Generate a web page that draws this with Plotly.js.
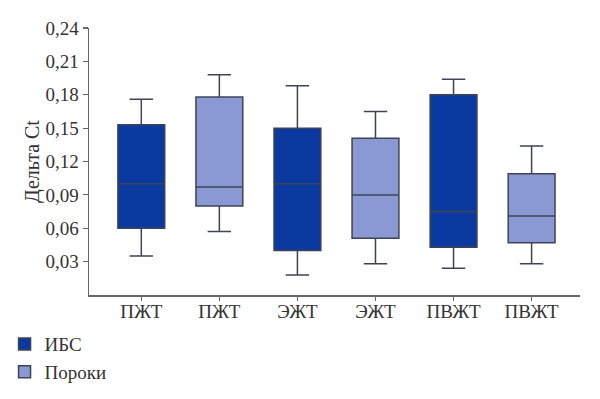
<!DOCTYPE html>
<html>
<head>
<meta charset="utf-8">
<script src="https://cdn.plot.ly/plotly-3.0.1.min.js"></script>
<style>html,body{margin:0;padding:0;background:#fff;}#chart{width:600px;height:399px;}</style>
</head>
<body>
<div id="chart"></div>
<script>
// Category positions and labels
const tickPositions = [0, 1, 2, 3, 4, 5];
const tickLabels = ["ПЖТ", "ПЖТ", "ЭЖТ", "ЭЖТ", "ПВЖТ", "ПВЖТ"];

// ИБС series (positions 0, 2, 4)
const ibsX = [0, 2, 4];
const ibsLower = [0.035, 0.018, 0.024];
const ibsQ1 = [0.060, 0.040, 0.043];
const ibsMedian = [0.100, 0.100, 0.075];
const ibsQ3 = [0.153, 0.150, 0.180];
const ibsUpper = [0.176, 0.188, 0.194];

// Пороки series (positions 1, 3, 5)
const porX = [1, 3, 5];
const porLower = [0.057, 0.028, 0.028];
const porQ1 = [0.080, 0.051, 0.047];
const porMedian = [0.097, 0.090, 0.071];
const porQ3 = [0.178, 0.141, 0.109];
const porUpper = [0.198, 0.165, 0.134];

// Y tick labels
const yTickVals = [0.03, 0.06, 0.09, 0.12, 0.15, 0.18, 0.21, 0.24];
const yTickText = ["0,03", "0,06", "0,09", "0,12", "0,15", "0,18", "0,21", "0,24"];

const fontFam = "Liberation Serif, Times New Roman, serif";

const traces = [
  {
    type: "box", name: "ИБС", x: ibsX,
    lowerfence: ibsLower, q1: ibsQ1, median: ibsMedian, q3: ibsQ3, upperfence: ibsUpper,
    width: 0.6, whiskerwidth: 0.5,
    fillcolor: "#0a3aa0", line: {color: "#3e4456", width: 1.5},
    legendgroup: "a", hoverinfo: "skip"
  },
  {
    type: "box", name: "Пороки", x: porX,
    lowerfence: porLower, q1: porQ1, median: porMedian, q3: porQ3, upperfence: porUpper,
    width: 0.6, whiskerwidth: 0.5,
    fillcolor: "#8a98d4", line: {color: "#3e4456", width: 1.5},
    legendgroup: "b", hoverinfo: "skip"
  }
];

const layout = {
  width: 600, height: 399,
  margin: {l: 89, r: 20, t: 28, b: 104, autoexpand: false},
  paper_bgcolor: "#fff", plot_bgcolor: "#fff",
  font: {family: fontFam, size: 19, color: "#333"},
  boxmode: "overlay",
  showlegend: true,
  legend: {
    x: -0.172, xanchor: "left", y: -0.113, yanchor: "top",
    orientation: "v", tracegroupgap: 0,
    font: {family: fontFam, size: 19, color: "#333"},
    bgcolor: "rgba(0,0,0,0)"
  },
  xaxis: {
    range: [-0.67, 5.62], automargin: false,
    tickvals: tickPositions, ticktext: tickLabels,
    showline: true, linecolor: "#666", linewidth: 1.5,
    ticks: "outside", ticklen: 4, tickcolor: "#666", tickwidth: 1.2,
    ticklabelstandoff: -5,
    showgrid: false, zeroline: false,
    tickfont: {family: fontFam, size: 19, color: "#333"}
  },
  yaxis: {
    range: [0, 0.24], automargin: false,
    tickvals: yTickVals, ticktext: yTickText,
    showline: true, linecolor: "#666", linewidth: 1.5,
    ticks: "outside", ticklen: 5, tickcolor: "#666", tickwidth: 1.2,
    showgrid: false, zeroline: false,
    tickfont: {family: fontFam, size: 19, color: "#333"},
    title: {text: "Дельта Ct", font: {family: fontFam, size: 20, color: "#333"}, standoff: 0}
  }
};

Plotly.newPlot("chart", traces, layout, {displayModeBar: false, staticPlot: true});
</script>
</body>
</html>
